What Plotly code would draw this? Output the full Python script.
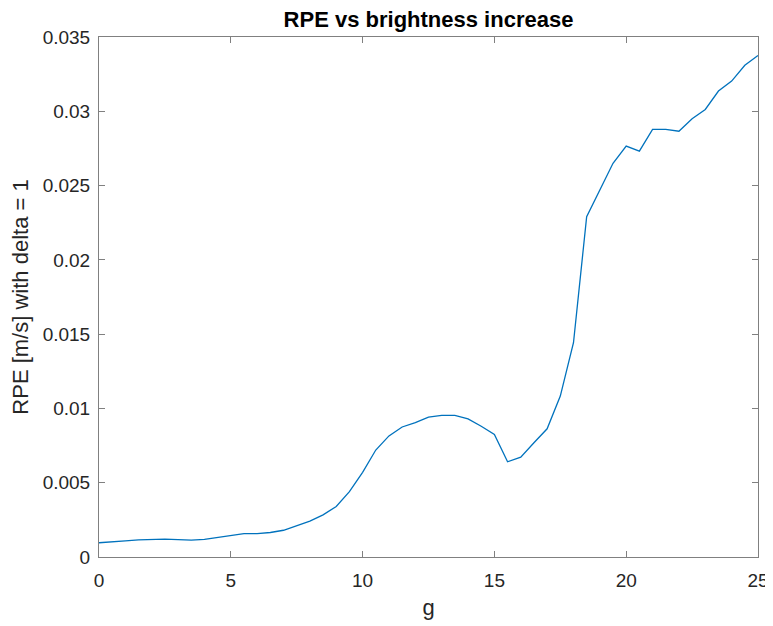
import plotly.graph_objects as go

g_values = [i * 0.5 for i in range(51)]
rpe_values = [
    0.00096, 0.00100, 0.00108, 0.00115, 0.00119, 0.00120, 0.00117, 0.00114, 0.00118, 0.00133,
    0.00148, 0.00158, 0.00158, 0.00165, 0.00180, 0.00212, 0.00242, 0.00284, 0.00340, 0.00440,
    0.00570, 0.00720, 0.00815, 0.00875, 0.00905, 0.00942, 0.00953, 0.00953, 0.00930, 0.00880,
    0.00825, 0.00641, 0.00672, 0.00769, 0.00863, 0.01083, 0.01442, 0.02290, 0.02470, 0.02650,
    0.02766, 0.02732, 0.02878, 0.02878, 0.02866, 0.02950, 0.03012, 0.03136, 0.03203, 0.03310,
    0.03376,
]
x_tickvals = [0, 5, 10, 15, 20, 25]
y_tickvals = [0, 0.005, 0.01, 0.015, 0.02, 0.025, 0.03, 0.035]
y_ticktext = ["0", "0.005", "0.01", "0.015", "0.02", "0.025", "0.03", "0.035"]

font = "Liberation Sans, Arial, sans-serif"
axis_color = "#808080"
text_color = "#262626"

# the page body adds an 8px offset, so the figure is 8px smaller than the window
fig = go.Figure()
fig.add_trace(go.Scatter(
    x=g_values, y=rpe_values, mode="lines",
    line=dict(color="#0072BD", width=1.3),
    showlegend=False,
))

fig.update_layout(
    width=765, height=618,
    margin=dict(l=91, r=15, t=29, b=69),
    paper_bgcolor="white", plot_bgcolor="white",
    title=dict(text="<b>RPE vs brightness increase</b>", x=0.5, xref="paper", xanchor="center",
               y=1 - 11 / 618, yanchor="middle", yref="container",
               font=dict(family=font, size=22, color="black")),
    font=dict(family=font, size=19, color=text_color),
)
fig.update_xaxes(
    range=[0, 25], tickvals=x_tickvals, ticks="inside", ticklen=6, tickcolor=axis_color,
    showline=True, linecolor=axis_color, linewidth=1, mirror="ticks", showgrid=False, zeroline=False,
    automargin=False, ticklabelstandoff=6,
    tickfont=dict(family=font, size=19, color=text_color),
    title=dict(text="g", font=dict(family=font, size=22, color=text_color), standoff=9),
)
fig.update_yaxes(
    range=[0, 0.035], tickvals=y_tickvals, ticktext=y_ticktext, ticks="inside", ticklen=6,
    tickcolor=axis_color, showline=True, linecolor=axis_color, linewidth=1, mirror="ticks",
    showgrid=False, zeroline=False, automargin=False, ticklabelstandoff=4,
    tickfont=dict(family=font, size=19, color=text_color),
    title=dict(text="RPE [m/s] with delta = 1", font=dict(family=font, size=22, color=text_color), standoff=10),
)

fig.write_html("out.html")
